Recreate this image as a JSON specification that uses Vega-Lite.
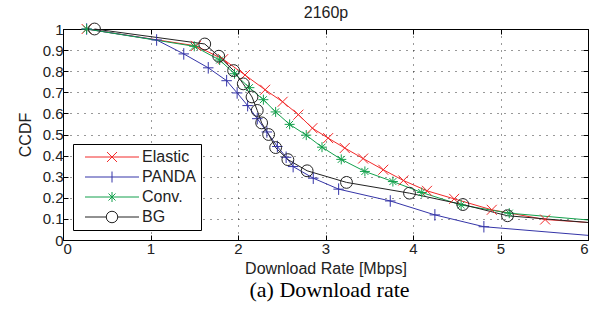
{
  "$schema": "https://vega.github.io/schema/vega-lite/v6.json",
  "width": 525,
  "height": 211,
  "autosize": {"type": "none"},
  "padding": {"left": 63, "top": 29, "right": 5, "bottom": 82},
  "background": "white",
  "title": {
    "text": "(a) Download rate",
    "orient": "bottom",
    "anchor": "middle",
    "font": "Liberation Serif",
    "fontSize": 22,
    "fontWeight": "normal",
    "color": "#000000",
    "offset": 4,
    "dx": 4
  },
  "config": {
    "font": "Liberation Sans",
    "view": {"stroke": "#000000", "strokeWidth": 1},
    "axis": {
      "labelFont": "Liberation Sans",
      "labelFontSize": 15,
      "labelColor": "#222222",
      "titleFont": "Liberation Sans",
      "titleFontSize": 16,
      "titleFontWeight": "normal",
      "titleColor": "#222222",
      "domain": false,
      "tickColor": "#000000",
      "tickSize": -5,
      "tickWidth": 1,
      "gridColor": "#000000",
      "gridDash": [1, 6],
      "gridWidth": 1,
      "gridOpacity": 0.8
    },
    "legend": {
      "labelFont": "Liberation Sans",
      "labelFontSize": 16,
      "labelColor": "#222222",
      "orient": "bottom-left",
      "offset": 10,
      "padding": 5,
      "rowPadding": 4,
      "symbolSize": 100,
      "symbolStrokeWidth": 1,
      "symbolOpacity": 1,
      "symbolFillColor": "transparent",
      "symbolOffset": 26,
      "labelOffset": 22,
      "strokeColor": "#000000",
      "fillColor": "#ffffff",
      "cornerRadius": 0
    }
  },
  "data": {
    "values": [
      {"series": "Elastic", "rate": 0.27, "ccdf": 1.0},
      {"series": "Elastic", "rate": 1.52, "ccdf": 0.92},
      {"series": "Elastic", "rate": 1.83, "ccdf": 0.857},
      {"series": "Elastic", "rate": 2.08, "ccdf": 0.782},
      {"series": "Elastic", "rate": 2.31, "ccdf": 0.712},
      {"series": "Elastic", "rate": 2.51, "ccdf": 0.655},
      {"series": "Elastic", "rate": 2.69, "ccdf": 0.594},
      {"series": "Elastic", "rate": 2.85, "ccdf": 0.53},
      {"series": "Elastic", "rate": 3.03, "ccdf": 0.483},
      {"series": "Elastic", "rate": 3.22, "ccdf": 0.436},
      {"series": "Elastic", "rate": 3.43, "ccdf": 0.386},
      {"series": "Elastic", "rate": 3.66, "ccdf": 0.333},
      {"series": "Elastic", "rate": 3.89, "ccdf": 0.282},
      {"series": "Elastic", "rate": 4.16, "ccdf": 0.233},
      {"series": "Elastic", "rate": 4.47, "ccdf": 0.195},
      {"series": "Elastic", "rate": 4.9, "ccdf": 0.143},
      {"series": "Elastic", "rate": 5.51, "ccdf": 0.097},
      {"series": "Elastic", "rate": 6.0, "ccdf": 0.083},

      {"series": "PANDA", "rate": 0.27, "ccdf": 1.0},
      {"series": "PANDA", "rate": 1.07, "ccdf": 0.948},
      {"series": "PANDA", "rate": 1.38, "ccdf": 0.882},
      {"series": "PANDA", "rate": 1.66, "ccdf": 0.816},
      {"series": "PANDA", "rate": 1.87, "ccdf": 0.755},
      {"series": "PANDA", "rate": 1.99, "ccdf": 0.697},
      {"series": "PANDA", "rate": 2.11, "ccdf": 0.637},
      {"series": "PANDA", "rate": 2.22, "ccdf": 0.575},
      {"series": "PANDA", "rate": 2.33, "ccdf": 0.512},
      {"series": "PANDA", "rate": 2.45, "ccdf": 0.443},
      {"series": "PANDA", "rate": 2.55, "ccdf": 0.392},
      {"series": "PANDA", "rate": 2.63, "ccdf": 0.348},
      {"series": "PANDA", "rate": 2.86, "ccdf": 0.293},
      {"series": "PANDA", "rate": 3.15, "ccdf": 0.241},
      {"series": "PANDA", "rate": 3.74, "ccdf": 0.185},
      {"series": "PANDA", "rate": 4.25, "ccdf": 0.119},
      {"series": "PANDA", "rate": 4.81, "ccdf": 0.063},
      {"series": "PANDA", "rate": 6.0, "ccdf": 0.022},

      {"series": "Conv.", "rate": 0.27, "ccdf": 1.0},
      {"series": "Conv.", "rate": 1.5, "ccdf": 0.918},
      {"series": "Conv.", "rate": 1.79, "ccdf": 0.853},
      {"series": "Conv.", "rate": 1.96, "ccdf": 0.788},
      {"series": "Conv.", "rate": 2.13, "ccdf": 0.722},
      {"series": "Conv.", "rate": 2.29, "ccdf": 0.665},
      {"series": "Conv.", "rate": 2.43, "ccdf": 0.607},
      {"series": "Conv.", "rate": 2.59, "ccdf": 0.548},
      {"series": "Conv.", "rate": 2.78, "ccdf": 0.497},
      {"series": "Conv.", "rate": 2.96, "ccdf": 0.44},
      {"series": "Conv.", "rate": 3.18, "ccdf": 0.382},
      {"series": "Conv.", "rate": 3.45, "ccdf": 0.325},
      {"series": "Conv.", "rate": 3.77, "ccdf": 0.277},
      {"series": "Conv.", "rate": 4.1, "ccdf": 0.225},
      {"series": "Conv.", "rate": 4.55, "ccdf": 0.166},
      {"series": "Conv.", "rate": 5.1, "ccdf": 0.127},
      {"series": "Conv.", "rate": 6.0, "ccdf": 0.095},

      {"series": "BG", "rate": 0.36, "ccdf": 1.0},
      {"series": "BG", "rate": 1.62, "ccdf": 0.929},
      {"series": "BG", "rate": 1.78, "ccdf": 0.871},
      {"series": "BG", "rate": 1.95, "ccdf": 0.803},
      {"series": "BG", "rate": 2.06, "ccdf": 0.74},
      {"series": "BG", "rate": 2.16, "ccdf": 0.678},
      {"series": "BG", "rate": 2.22, "ccdf": 0.614},
      {"series": "BG", "rate": 2.27, "ccdf": 0.555},
      {"series": "BG", "rate": 2.35, "ccdf": 0.5},
      {"series": "BG", "rate": 2.43, "ccdf": 0.438},
      {"series": "BG", "rate": 2.57, "ccdf": 0.381},
      {"series": "BG", "rate": 2.79, "ccdf": 0.328},
      {"series": "BG", "rate": 3.24, "ccdf": 0.273},
      {"series": "BG", "rate": 3.96, "ccdf": 0.222},
      {"series": "BG", "rate": 4.57, "ccdf": 0.168},
      {"series": "BG", "rate": 5.08, "ccdf": 0.115},
      {"series": "BG", "rate": 6.0, "ccdf": 0.083}
    ]
  },
  "layer": [
    {
      "mark": {"type": "line", "strokeWidth": 1},
      "encoding": {
        "x": {
          "field": "rate", "type": "quantitative",
          "scale": {"domain": [0, 6], "nice": false},
          "axis": {
            "orient": "bottom",
            "title": "Download Rate [Mbps]",
            "values": [0, 1, 2, 3, 4, 5, 6],
            "grid": true,
            "labelPadding": 6,
            "titlePadding": 4
          }
        },
        "y": {
          "field": "ccdf", "type": "quantitative",
          "scale": {"domain": [0, 1], "nice": false},
          "axis": {
            "orient": "left",
            "title": "CCDF",
            "values": [0, 0.1, 0.2, 0.3, 0.4, 0.5, 0.6, 0.7, 0.8, 0.9, 1],
            "format": "~g",
            "grid": true,
            "labelPadding": 5,
            "titlePadding": 9
          }
        },
        "color": {
          "field": "series", "type": "nominal",
          "scale": {
            "domain": ["Elastic", "PANDA", "Conv.", "BG"],
            "range": ["#f22a2a", "#3535a8", "#13a04c", "#222222"]
          },
          "legend": {"title": null}
        },
        "detail": {"field": "series"}
      }
    },
    {
      "transform": [{"filter": "datum.rate < 6 && datum.series === 'Elastic'"}],
      "mark": {"type": "point", "filled": false, "strokeWidth": 1, "opacity": 1, "size": 100, "shape": "M-1,-1L1,1M-1,1L1,-1"},
      "encoding": {
        "x": {"field": "rate", "type": "quantitative", "axis": null},
        "y": {"field": "ccdf", "type": "quantitative", "axis": null},
        "color": {"field": "series", "type": "nominal", "legend": {"title": null}}
      }
    },
    {
      "transform": [{"filter": "datum.rate < 6 && datum.series === 'PANDA'"}],
      "mark": {"type": "point", "filled": false, "strokeWidth": 1, "opacity": 1, "size": 110, "shape": "M-1,0L1,0M0,-1.1L0,1.1"},
      "encoding": {
        "x": {"field": "rate", "type": "quantitative", "axis": null},
        "y": {"field": "ccdf", "type": "quantitative", "axis": null},
        "color": {"field": "series", "type": "nominal", "legend": {"title": null}}
      }
    },
    {
      "transform": [{"filter": "datum.rate < 6 && datum.series === 'Conv.'"}],
      "mark": {"type": "point", "filled": false, "strokeWidth": 1, "opacity": 1, "size": 100, "shape": "M-1,0L1,0M0,-1L0,1M-0.7,-0.7L0.7,0.7M-0.7,0.7L0.7,-0.7"},
      "encoding": {
        "x": {"field": "rate", "type": "quantitative", "axis": null},
        "y": {"field": "ccdf", "type": "quantitative", "axis": null},
        "color": {"field": "series", "type": "nominal", "legend": {"title": null}}
      }
    },
    {
      "transform": [{"filter": "datum.rate < 6 && datum.series === 'BG'"}],
      "mark": {"type": "point", "filled": false, "strokeWidth": 1, "opacity": 1, "size": 140, "shape": "circle"},
      "encoding": {
        "x": {"field": "rate", "type": "quantitative", "axis": null},
        "y": {"field": "ccdf", "type": "quantitative", "axis": null},
        "color": {"field": "series", "type": "nominal", "legend": {"title": null}}
      }
    },
    {
      "mark": {"type": "point", "filled": false, "strokeWidth": 1, "opacity": 0},
      "encoding": {
        "x": {
          "field": "rate", "type": "quantitative",
          "axis": {
            "orient": "top",
            "title": "2160p",
            "values": [0, 1, 2, 3, 4, 5, 6],
            "labels": false,
            "grid": false,
            "titlePadding": 8
          }
        },
        "y": {
          "field": "ccdf", "type": "quantitative",
          "axis": {
            "orient": "right",
            "title": null,
            "values": [0, 0.1, 0.2, 0.3, 0.4, 0.5, 0.6, 0.7, 0.8, 0.9, 1],
            "labels": false,
            "grid": false
          }
        },
        "color": {"field": "series", "type": "nominal", "legend": {"title": null}},
        "shape": {
          "field": "series", "type": "nominal",
          "scale": {
            "domain": ["Elastic", "PANDA", "Conv.", "BG"],
            "range": [
              "M-5.4,0L5.4,0M-1,-1L1,1M-1,1L1,-1",
              "M-5.4,0L5.4,0M0,-1.1L0,1.1",
              "M-5.4,0L5.4,0M0,-1L0,1M-0.7,-0.7L0.7,0.7M-0.7,0.7L0.7,-0.7",
              "M-5.4,0L-1.15,0M1.15,0L5.4,0M1.15,0A1.15,1.15,0,1,1,-1.15,0A1.15,1.15,0,1,1,1.15,0"
            ]
          },
          "legend": {"title": null}
        }
      }
    }
  ],
  "resolve": {"axis": {"x": "independent", "y": "independent"}}
}
